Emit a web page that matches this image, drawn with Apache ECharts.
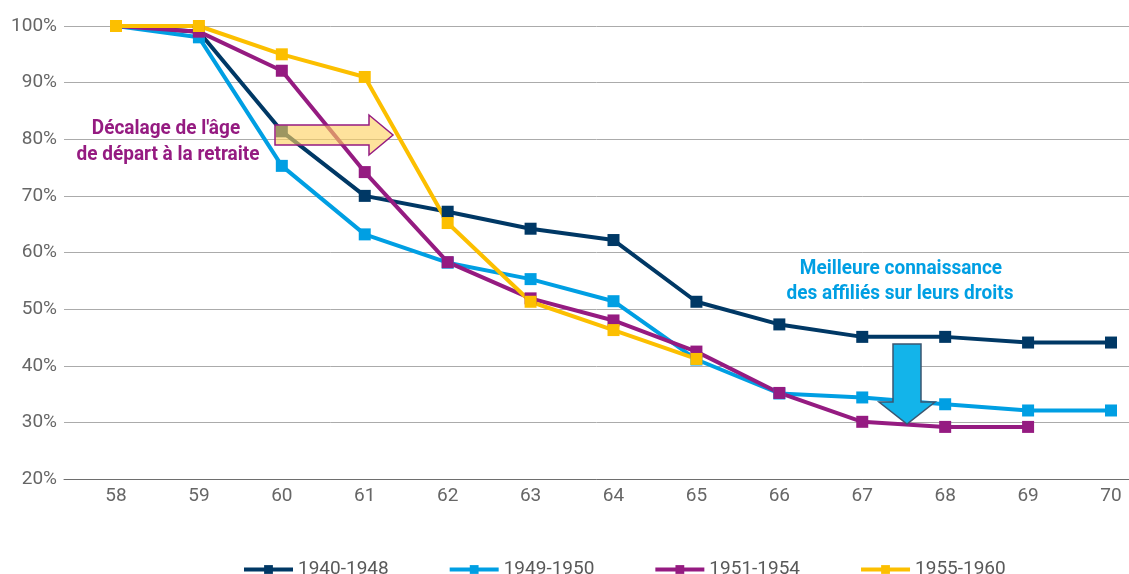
<!DOCTYPE html>
<html><head><meta charset="utf-8">
<script src="https://cdn.jsdelivr.net/npm/echarts@6/dist/echarts.min.js"></script>
<style>html,body{margin:0;padding:0;background:#fff}#c{width:1129px;height:574px}</style>
</head><body><div id="c"></div>
<script>
const ages = [58,59,60,61,62,63,64,65,66,67,68,69,70];
const yTickValues = [20,30,40,50,60,70,80,90,100];
const seriesNames = ['1940-1948','1949-1950','1951-1954','1955-1960'];
const s1940 = [100,99,81.4,70,67.2,64.2,62.2,51.3,47.3,45.1,45.1,44.1,44.1];
const s1949 = [100,98,75.3,63.2,58.2,55.3,51.4,41.1,35.1,34.4,33.2,32.1,32.1];
const s1951 = [100,99,92.1,74.2,58.3,51.9,48,42.5,35.2,30.1,29.2,29.2,null];
const s1955 = [100,100,95,91,65.2,51.3,46.3,41.2,null,null,null,null,null];
const colors = ['#003865','#009fe3','#951b81','#fcbf00'];
const annotLeft = ["Décalage de l'âge", "de départ à la retraite"];
const annotRight = ["Meilleure connaissance", "des affiliés sur leurs droits"];

const FONT = "Roboto, 'Liberation Sans', sans-serif";
const allSeries = [s1940, s1949, s1951, s1955];

const chart = echarts.init(document.getElementById('c'), null, {renderer:'canvas'});
function txt(t, x, y, color){
  return {type:'text', z:101, x:x, y:y, scaleX:0.95,
    style:{text:t, fill:color, font:"bold 20px "+FONT, textAlign:'center', textVerticalAlign:'middle'}};
}
const option = {
  animation:false,
  backgroundColor:'#fff',
  grid:{left:64, right:0, top:26, bottom:95, containLabel:false},
  xAxis:{type:'value', min:57.373, max:70.217,
    axisLine:{show:true, lineStyle:{color:'#6e6e6e', width:1}},
    axisTick:{show:false},
    splitLine:{show:false},
    axisLabel:{customValues:ages, color:'#666', fontSize:19, fontFamily:FONT, margin:8,
      formatter:v=>String(Math.round(v))}
  },
  yAxis:{type:'value', min:20, max:100, interval:10,
    axisLine:{show:false}, axisTick:{show:false},
    splitLine:{lineStyle:{color:'#ababab', width:1}},
    axisLabel:{color:'#666', fontSize:19, fontFamily:FONT, margin:7, formatter:'{value}%'}
  },
  legend:{left:237, top:555, itemWidth:49, itemHeight:11, itemGap:59,
    lineStyle:{width:4},
    textStyle:{color:'#595959', fontSize:19, fontFamily:FONT},
    data:seriesNames},
  series: allSeries.map((s,k)=>({
    name:seriesNames[k], type:'line',
    data: ages.map((a,i)=>[a, s[i]]).filter(p=>p[1]!==null),
    symbol:'rect', symbolSize:12,
    lineStyle:{width:4, color:colors[k]},
    itemStyle:{color:colors[k]},
    color:colors[k]
  })),
  graphic:[
    {type:'polygon', z:100,
      shape:{points:[[275,125],[369,125],[369,115],[393,135],[369,155],[369,145],[275,145]]},
      style:{fill:'rgba(253,208,95,0.62)', stroke:'#951b81', lineWidth:1.5}},
    {type:'polygon', z:100,
      shape:{points:[[893,344],[921,344],[921,402],[935,402],[907,424],[879,402],[893,402]]},
      style:{fill:'#13b4ea', stroke:'#3b5670', lineWidth:1.5}},
    txt(annotLeft[0], 166, 129, '#951b81'),
    txt(annotLeft[1], 168, 155, '#951b81'),
    txt(annotRight[0], 901, 269, '#009fe3'),
    txt(annotRight[1], 900, 294, '#009fe3')
  ]
};
chart.setOption(option);
</script></body></html>
